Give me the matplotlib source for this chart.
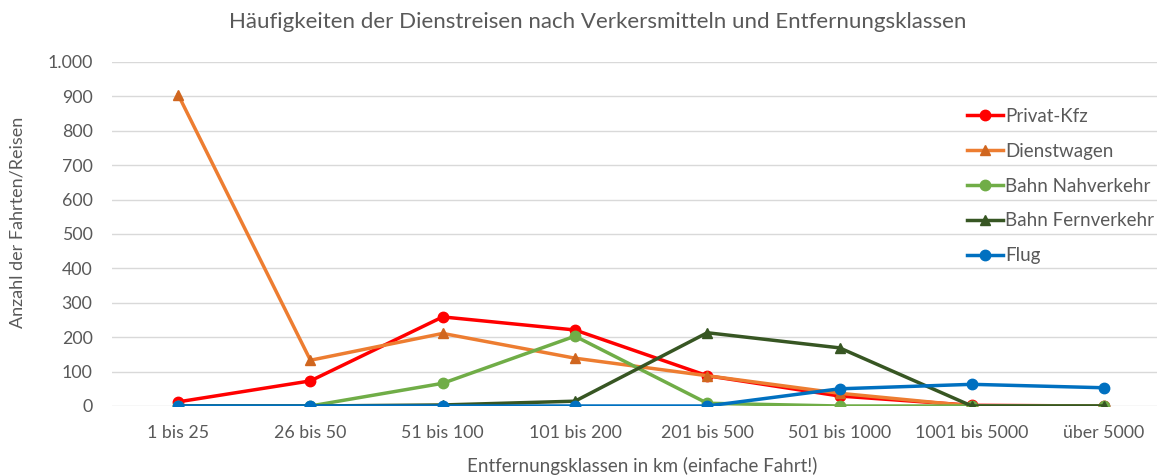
import matplotlib
matplotlib.use("Agg")
import matplotlib.pyplot as plt
from matplotlib.ticker import FuncFormatter

# Entfernungsklassen und Häufigkeiten je Verkehrsmittel
klassen = ["1 bis 25", "26 bis 50", "51 bis 100", "101 bis 200",
           "201 bis 500", "501 bis 1000", "1001 bis 5000", "über 5000"]
privat_kfz = [12, 73, 259, 221, 88, 29, 2, 0]
dienstwagen = [905, 133, 211, 139, 88, 37, 0, 0]
bahn_nah = [0, 0, 66, 203, 8, 0, 0, 0]
bahn_fern = [0, 0, 3, 14, 213, 169, 0, 0]
flug = [0, 0, 0, 0, 0, 50, 63, 53]

plt.rcParams['font.family'] = ['Lato', 'DejaVu Sans']
grau = '#595959'

fig = plt.figure(figsize=(11.57, 4.75), dpi=100)
ax = fig.add_axes([112 / 1157, 69 / 475, 1045 / 1157, 344 / 475])

x = range(len(klassen))
ax.plot(x, privat_kfz, color='#FF0000', lw=2.5, marker='o', ms=7.5, label='Privat-Kfz')
ax.plot(x, dienstwagen, color='#ED7D31', lw=2.5, marker='^', ms=7.5, mfc='#D0661F', mec='#D0661F', label='Dienstwagen')
ax.plot(x, bahn_nah, color='#70AD47', lw=2.5, marker='o', ms=7.5, label='Bahn Nahverkehr')
ax.plot(x, bahn_fern, color='#375623', lw=2.5, marker='^', ms=7.5, label='Bahn Fernverkehr')
ax.plot(x, flug, color='#0070C0', lw=2.5, marker='o', ms=7.5, label='Flug')

ax.set_xlim(-0.5, 7.4)
ax.set_ylim(0, 1000)
ax.set_yticks(range(0, 1001, 100))
ax.yaxis.set_major_formatter(FuncFormatter(lambda v, p: f"{int(v):,}".replace(",", ".")))
ax.set_xticks(list(x))
ax.set_xticklabels(klassen)
ax.tick_params(axis='both', length=0, labelsize=12.8, colors=grau)
ax.tick_params(axis='x', pad=14)
ax.tick_params(axis='y', pad=14)
ax.grid(axis='y', color='#D9D9D9', lw=1)
ax.set_axisbelow(True)
for s in ax.spines.values():
    s.set_visible(False)

fig.text(598 / 1157, 1 - 22 / 475,
         'Häufigkeiten der Dienstreisen nach Verkersmitteln und Entfernungsklassen',
         ha='center', va='center', fontsize=16, color=grau)
fig.text(18 / 1157, 1 - 222 / 475, 'Anzahl der Fahrten/Reisen', rotation=90,
         ha='center', va='center', fontsize=13, color=grau)
fig.text(642 / 1157, 1 - 466 / 475, 'Entfernungsklassen in km (einfache Fahrt!)',
         ha='center', va='center', fontsize=13.5, color=grau)

leg = ax.legend(loc='upper left', bbox_to_anchor=(950 / 1157, 1 - 91 / 475),
                bbox_transform=fig.transFigure, frameon=False, fontsize=13.5,
                handlelength=1.9, handletextpad=0.15, labelspacing=0.95)
for t in leg.get_texts():
    t.set_color(grau)

fig.savefig('out.png', dpi=100)
